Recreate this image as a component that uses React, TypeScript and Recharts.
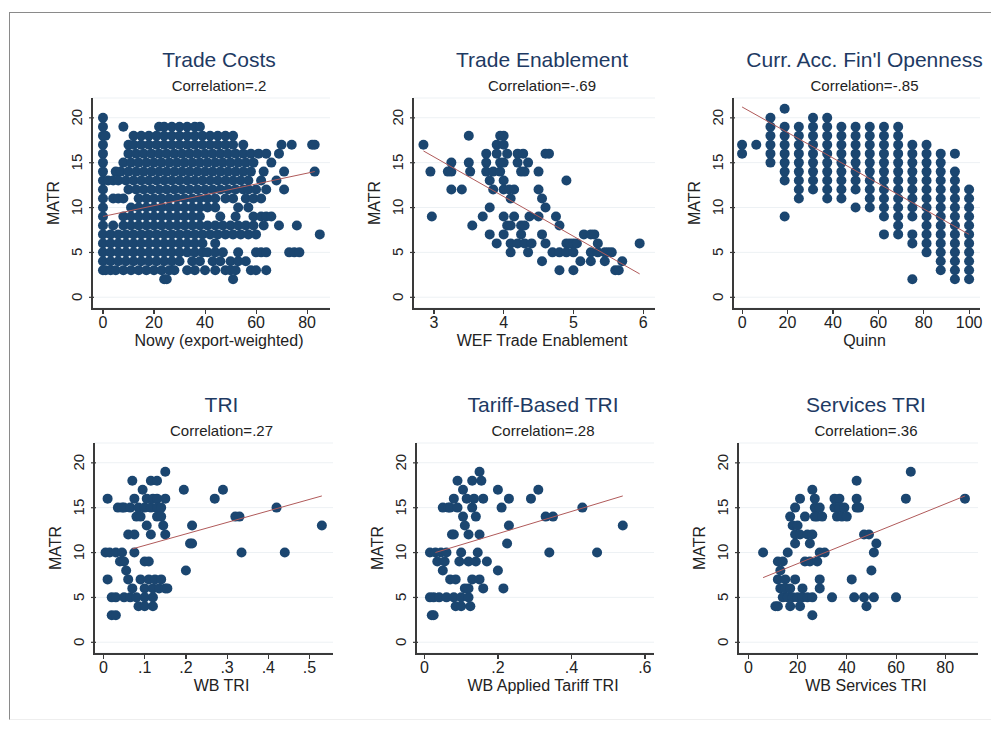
import React from "react";
import { ScatterChart, Scatter, XAxis, YAxis, CartesianGrid } from "recharts";

// ---- data ----
const matrTicks = [0, 5, 10, 15, 20];

// Trade Costs: MATR level -> Nowy values
const tradeCostRows: [number, number[]][] = [
  [20, [0]],
  [19, [0, 8, 22, 24, 27, 30, 33, 36, 38]],
  [18, [0, 1, 12, 15, 18, 21, 24, 27, 30, 33, 36, 39, 42, 45, 48, 51]],
  [17, [0, 10, 12, 15, 18, 21, 24, 27, 30, 33, 36, 39, 42, 45, 48, 51, 55, 70, 74, 82, 83]],
  [16, [0, 10, 13, 16, 19, 22, 25, 28, 31, 34, 37, 40, 43, 46, 49, 52, 55, 58, 61, 64, 69]],
  [15, [0, 8, 11, 14, 17, 20, 23, 26, 29, 32, 35, 38, 41, 44, 47, 50, 53, 56, 59, 66]],
  [14, [0, 5, 7, 10, 13, 16, 19, 22, 25, 28, 31, 34, 37, 40, 43, 46, 49, 52, 55, 58, 63, 71, 83]],
  [13, [0, 2, 4, 6, 9, 12, 15, 18, 21, 24, 27, 30, 33, 36, 39, 42, 45, 48, 51, 54, 57, 62, 68]],
  [12, [0, 10, 13, 16, 19, 22, 25, 28, 31, 34, 37, 40, 43, 46, 49, 52, 55, 57, 60, 64, 71]],
  [11, [0, 4, 6, 8, 14, 17, 20, 23, 26, 29, 32, 35, 38, 41, 44, 48, 51, 56, 59, 62]],
  [10, [0, 11, 14, 17, 20, 23, 26, 29, 32, 35, 38, 41, 44, 53, 57]],
  [9, [0, 8, 11, 14, 17, 20, 23, 26, 29, 32, 35, 38, 46, 52, 59, 62, 64, 66]],
  [8, [0, 4, 8, 11, 14, 17, 20, 23, 26, 29, 32, 35, 38, 41, 44, 47, 50, 53, 56, 59, 63, 69, 76]],
  [7, [0, 3, 6, 9, 12, 15, 18, 21, 24, 27, 30, 33, 36, 39, 42, 45, 48, 51, 54, 57, 60, 85]],
  [6, [0, 3, 6, 9, 12, 15, 18, 21, 24, 27, 30, 33, 36, 39, 44]],
  [5, [0, 3, 6, 9, 12, 15, 18, 21, 24, 27, 30, 33, 36, 39, 41, 44, 47, 53, 60, 62, 64, 73, 75, 77]],
  [4, [0, 3, 6, 9, 12, 15, 18, 21, 24, 27, 30, 35, 38, 43, 46, 50, 53, 56]],
  [3, [0, 1, 3, 5, 8, 11, 14, 17, 20, 23, 26, 28, 33, 36, 40, 44, 48, 50, 52, 58, 60, 64]],
  [2, [24, 25, 51]],
];
const tradeCostFit = [[0, 9], [83, 14]];

const wefPoints = [
  [2.85, 17], [2.95, 14], [2.97, 9], [3.2, 14], [3.25, 15], [3.25, 14], [3.25, 12], [3.4, 12],
  [3.5, 18], [3.5, 15], [3.52, 14], [3.55, 8], [3.7, 9], [3.75, 16], [3.75, 15], [3.75, 14],
  [3.8, 13], [3.8, 10], [3.8, 7], [3.85, 14], [3.85, 12], [3.9, 17], [3.9, 16], [3.9, 6],
  [3.95, 18], [3.95, 15], [3.95, 14], [4.0, 18], [4.0, 17], [4.0, 15], [4.0, 13], [4.0, 12],
  [4.0, 9], [4.0, 7], [4.05, 8], [4.05, 16], [4.08, 12], [4.1, 11], [4.1, 8], [4.1, 6],
  [4.1, 5], [4.15, 12], [4.15, 9], [4.2, 16], [4.2, 15], [4.2, 6], [4.25, 14], [4.25, 8],
  [4.25, 7], [4.28, 16], [4.3, 14], [4.3, 8], [4.3, 6], [4.35, 15], [4.35, 5], [4.37, 9],
  [4.4, 6], [4.5, 12], [4.5, 9], [4.5, 14], [4.55, 11], [4.55, 4], [4.55, 7], [4.6, 16],
  [4.6, 10], [4.6, 6], [4.65, 16], [4.7, 5], [4.75, 9], [4.8, 8], [4.8, 5], [4.8, 3],
  [4.9, 6], [4.9, 13], [4.9, 5], [4.95, 6], [5.0, 6], [5.0, 5], [5.0, 3], [5.05, 6],
  [5.1, 4], [5.15, 7], [5.25, 7], [5.25, 5], [5.25, 4], [5.3, 7], [5.35, 6], [5.35, 5],
  [5.45, 5], [5.45, 4], [5.5, 5], [5.55, 5], [5.6, 3], [5.65, 3], [5.7, 4], [5.95, 6],
];
const wefFit = [[2.85, 16.3], [5.95, 2.6]];

// Quinn: value -> MATR values in that column
const quinnColumns: [number, number[]][] = [
  [0, [16, 17]],
  [6.25, [17]],
  [12.5, [15, 16, 17, 18, 19, 20]],
  [18.75, [9, 13, 14, 15, 16, 17, 18, 19, 21]],
  [25, [11, 12, 13, 14, 15, 16, 17, 18, 19]],
  [31.25, [12, 13, 14, 15, 16, 17, 18, 19, 20]],
  [37.5, [11, 12, 13, 14, 15, 16, 17, 18, 19, 20]],
  [43.75, [11, 12, 13, 14, 15, 16, 17, 18, 19]],
  [50, [10, 12, 13, 14, 15, 16, 17, 18, 19]],
  [56.25, [10, 11, 12, 13, 14, 15, 16, 17, 18, 19]],
  [62.5, [7, 9, 10, 11, 12, 13, 14, 15, 16, 17, 18, 19]],
  [68.75, [7, 8, 9, 10, 11, 12, 13, 14, 15, 16, 17, 18, 19]],
  [75, [2, 6, 7, 9, 10, 11, 12, 13, 14, 15, 16, 17]],
  [81.25, [5, 6, 7, 8, 9, 10, 11, 12, 13, 14, 15, 16, 17]],
  [87.5, [3, 4, 5, 6, 7, 8, 9, 10, 11, 12, 13, 14, 15, 16]],
  [93.75, [2, 3, 4, 5, 6, 7, 8, 9, 10, 11, 12, 13, 14, 16]],
  [100, [2, 3, 4, 5, 6, 7, 8, 9, 10, 11, 12]],
];
const quinnFit = [[0, 21.2], [100, 7]];

const triPoints = [
  [0.01, 16], [0.005, 10], [0.01, 7], [0.015, 10], [0.02, 5], [0.02, 3], [0.03, 3], [0.03, 10],
  [0.03, 5], [0.035, 15], [0.04, 9], [0.045, 15], [0.045, 10], [0.05, 15], [0.05, 9], [0.05, 5],
  [0.055, 8], [0.06, 12], [0.06, 7], [0.065, 15], [0.065, 5], [0.07, 18], [0.07, 6], [0.075, 12],
  [0.075, 16], [0.075, 10], [0.08, 14], [0.08, 5], [0.085, 15], [0.085, 4], [0.09, 14], [0.09, 7],
  [0.095, 17], [0.1, 15], [0.1, 9], [0.1, 6], [0.1, 5], [0.1, 4], [0.105, 13], [0.105, 16],
  [0.11, 9], [0.11, 7], [0.115, 18], [0.115, 15], [0.115, 12], [0.12, 16], [0.12, 5], [0.12, 4],
  [0.12, 6], [0.125, 7], [0.13, 18], [0.13, 16], [0.13, 15], [0.13, 14], [0.135, 6], [0.14, 7],
  [0.14, 15], [0.14, 14], [0.145, 13], [0.15, 19], [0.15, 16], [0.15, 12], [0.15, 6], [0.155, 6],
  [0.195, 17], [0.2, 8], [0.21, 11], [0.215, 11], [0.215, 13], [0.27, 16], [0.29, 17], [0.32, 14],
  [0.33, 14], [0.335, 10], [0.42, 15], [0.44, 10], [0.53, 13],
];
const triFit = [[0.07, 10.4], [0.53, 16.3]];

const tariffPoints = [
  [0.015, 10], [0.015, 5], [0.02, 3], [0.025, 3], [0.025, 5], [0.03, 10], [0.035, 9], [0.04, 5],
  [0.045, 10], [0.05, 15], [0.05, 8], [0.055, 9], [0.06, 5], [0.06, 10], [0.065, 15], [0.07, 15],
  [0.07, 7], [0.075, 12], [0.08, 16], [0.08, 12], [0.08, 5], [0.085, 4], [0.085, 7], [0.09, 18],
  [0.09, 15], [0.095, 9], [0.1, 10], [0.1, 5], [0.1, 4], [0.105, 14], [0.105, 17], [0.11, 13],
  [0.11, 6], [0.115, 16], [0.12, 9], [0.12, 12], [0.12, 5], [0.12, 6], [0.125, 4], [0.13, 18],
  [0.13, 15], [0.13, 7], [0.135, 16], [0.14, 14], [0.14, 9], [0.145, 10], [0.15, 19], [0.15, 12],
  [0.15, 7], [0.155, 18], [0.16, 16], [0.16, 6], [0.17, 9], [0.2, 17], [0.2, 8], [0.21, 15],
  [0.215, 6], [0.225, 11], [0.23, 16], [0.23, 13], [0.29, 16], [0.31, 17], [0.33, 14], [0.34, 10],
  [0.35, 14], [0.43, 15], [0.47, 10], [0.54, 13],
];
const tariffFit = [[0.03, 10], [0.54, 16.3]];

const servicesPoints = [
  [6, 10], [11, 4], [12, 9], [12, 7], [12, 4], [13, 8], [13, 6], [14, 9], [14, 5], [15, 7], [15, 6],
  [16, 10], [16, 5], [17, 14], [17, 6], [17, 4], [18, 13], [18, 5], [19, 15], [19, 12], [19, 11],
  [19, 7], [20, 13], [20, 5], [21, 16], [21, 4], [21, 12], [22, 6], [22, 5], [23, 14], [23, 9],
  [24, 12], [24, 5], [25, 9], [25, 11], [26, 3], [26, 17], [26, 12], [26, 5], [27, 15], [27, 14],
  [27, 16], [28, 9], [28, 14], [29, 10], [29, 15], [29, 6], [29, 7], [30, 14], [31, 10], [34, 5],
  [35, 16], [35, 15], [36, 14], [37, 16], [37, 15], [38, 14], [39, 15], [40, 14], [42, 7], [43, 5],
  [44, 15], [44, 18], [44, 16], [45, 15], [47, 12], [47, 5], [48, 4], [49, 12], [50, 8], [51, 10],
  [51, 5], [52, 11], [60, 5], [64, 16], [66, 19], [88, 16],
];
const servicesFit = [[6, 7.2], [88, 16.3]];

// ---- rendering ----
const DOT = "#1b4670";
const FIT = "#b05a5a";
const AXIS = "#3a3a3a";
const FONT = "'Liberation Sans', Arial, sans-serif";

const toPts = (pairs: number[][]) => pairs.map(([x, y]) => ({ x, y }));

const Dot = (p: any) => <circle cx={p.cx} cy={p.cy} r={5} fill={DOT} />;
const NoDot = () => <g />;

const decimal = (v: number) => (v === 0 ? "0" : String(v).replace(/^0/, ""));

const YTick = (p: any) => {
  const ax = p.x + 10; // axis position (tick text sits tickSize + tickMargin left of it)
  return (
    <g>
      <rect x={ax - 5} y={p.y - 0.5} width={5} height={1.2} fill={AXIS} />
      <text x={ax - 17} y={p.y} dy={5} textAnchor="middle" fontSize={15} fill="#222" fontFamily={FONT}
        style={{ transformBox: "fill-box", transformOrigin: "center", transform: "rotate(-90deg)" }}>
        {p.payload.value}
      </text>
    </g>
  );
};

const makeXTick = (fmt: (v: number) => string) => (p: any) => (
  <g>
    <text x={p.x} y={p.y + 12} textAnchor="middle" fontSize={16} fill="#222" fontFamily={FONT}>
      {fmt(p.payload.value)}
    </text>
  </g>
);

interface PanelProps {
  title: string;
  corr: string;
  xLabel: string;
  left: number; right: number; top: number; bottom: number;
  xDomain: [number, number];
  xTicks: number[];
  fmt?: (v: number) => string;
  points: { x: number; y: number }[];
  fit: number[][];
}

const Panel = (p: PanelProps) => {
  const w = p.right - p.left;
  const h = p.bottom - p.top;
  const cx = (p.left + p.right) / 2 + 8;
  const fmt = p.fmt || ((v: number) => String(v));
  const xSpan = p.xDomain[1] - p.xDomain[0];
  return (
    <>
      <div style={{ position: "absolute", left: cx - 150, width: 300, top: p.top - 50, textAlign: "center",
        fontFamily: FONT, fontSize: 21, color: "#1e3a63" }}>{p.title}</div>
      <div style={{ position: "absolute", left: cx - 150, width: 300, top: p.top - 21, textAlign: "center",
        fontFamily: FONT, fontSize: 15, color: "#222" }}>{p.corr}</div>
      <div style={{ position: "absolute", left: p.left - 47, top: p.top + 135, transform: "rotate(-90deg)",
        transformOrigin: "0 0", fontFamily: FONT, fontSize: 16, color: "#222", width: 60, textAlign: "center" }}>MATR</div>
      <div style={{ position: "absolute", left: cx - 150, width: 300, top: p.bottom + 24, textAlign: "center",
        fontFamily: FONT, fontSize: 16, color: "#222" }}>{p.xLabel}</div>
      <div style={{ position: "absolute", left: p.left - 45, top: p.top - 5 }}>
        <ScatterChart width={w + 50} height={h + 35} margin={{ top: 5, right: 5, left: 0, bottom: 0 }}>
          <CartesianGrid horizontal vertical={false} stroke="#edf1f4" />
          <XAxis type="number" dataKey="x" domain={p.xDomain} ticks={p.xTicks} allowDataOverflow
            height={30} axisLine={false} tickLine={false} tick={makeXTick(fmt)} />
          <YAxis type="number" dataKey="y" domain={[-1.2, 22.2]} ticks={matrTicks} allowDataOverflow
            width={45} axisLine={false} tickLine={false} tick={YTick} />
          <Scatter data={p.points} shape={Dot} isAnimationActive={false} />
          <Scatter data={toPts(p.fit)} shape={NoDot} line={{ stroke: FIT, strokeWidth: 1 }} isAnimationActive={false} />
        </ScatterChart>
      </div>
      {/* axis frame lines */}
      <div style={{ position: "absolute", left: p.left - 1, top: p.top, width: 1.5, height: h + 1, background: AXIS }} />
      <div style={{ position: "absolute", left: p.left - 1, top: p.bottom, width: w + 1, height: 1.5, background: AXIS }} />
      {p.xTicks.map((t) => (
        <div key={t} style={{ position: "absolute", top: p.bottom, height: 6, width: 1.2, background: AXIS,
          left: p.left + ((t - p.xDomain[0]) / xSpan) * w - 0.5 }} />
      ))}
    </>
  );
};

export default function App() {
  const tradePts = tradeCostRows.flatMap(([y, xs]) => xs.map((x) => ({ x, y })));
  const quinnPts = quinnColumns.flatMap(([x, ys]) => ys.map((y) => ({ x, y })));
  return (
    <div style={{ position: "absolute", left: 0, top: 0, width: 991, height: 733, background: "#fff", overflow: "hidden" }}>
      <div style={{ position: "absolute", left: 9, top: 12, width: 1000, height: 708, border: "1px solid #8a8a8a",
        borderBottomColor: "#eeeeee", boxSizing: "border-box" }} />
      <Panel title="Trade Costs" corr="Correlation=.2" xLabel="Nowy (export-weighted)"
        left={92} right={330} top={98} bottom={308} xDomain={[-4.3, 89]} xTicks={[0, 20, 40, 60, 80]}
        points={tradePts} fit={tradeCostFit} />
      <Panel title="Trade Enablement" corr="Correlation=-.69" xLabel="WEF Trade Enablement"
        left={413} right={655} top={98} bottom={308} xDomain={[2.7, 6.17]} xTicks={[3, 4, 5, 6]}
        points={toPts(wefPoints)} fit={wefFit} />
      <Panel title="Curr. Acc. Fin'l Openness" corr="Correlation=-.85" xLabel="Quinn"
        left={733} right={980} top={98} bottom={308} xDomain={[-4, 104.8]} xTicks={[0, 20, 40, 60, 80, 100]}
        points={quinnPts} fit={quinnFit} />
      <Panel title="TRI" corr="Correlation=.27" xLabel="WB TRI"
        left={94} right={333} top={443} bottom={653} xDomain={[-0.023, 0.557]} xTicks={[0, 0.1, 0.2, 0.3, 0.4, 0.5]}
        fmt={decimal} points={toPts(triPoints)} fit={triFit} />
      <Panel title="Tariff-Based TRI" corr="Correlation=.28" xLabel="WB Applied Tariff TRI"
        left={416} right={654} top={443} bottom={653} xDomain={[-0.023, 0.625]} xTicks={[0, 0.2, 0.4, 0.6]}
        fmt={decimal} points={toPts(tariffPoints)} fit={tariffFit} />
      <Panel title="Services TRI" corr="Correlation=.36" xLabel="WB Services TRI"
        left={738} right={978} top={443} bottom={653} xDomain={[-4.2, 93.3]} xTicks={[0, 20, 40, 60, 80]}
        points={toPts(servicesPoints)} fit={servicesFit} />
    </div>
  );
}
